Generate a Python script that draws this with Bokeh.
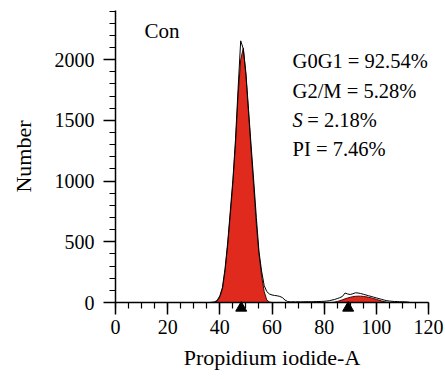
from bokeh.plotting import figure
from bokeh.models import Range1d, LinearAxis, SingleIntervalTicker, Label
from bokeh.embed import file_html
from bokeh.resources import INLINE

# ---- data ----
channels = list(range(36, 114))
fit_counts = [0, 0, 2, 12, 45, 110, 260, 470, 720, 980,          # 36-45
              1300, 1700, 2000, 2095, 1870, 1560, 1250, 950, 640, 400,  # 46-55
              220, 90, 20, 4, 0, 0, 0, 0, 0, 0,                    # 56-65
              0, 0, 0, 0, 0, 0, 0, 0, 0, 0,                        # 66-75
              0, 0, 0, 0, 0, 0, 0, 0, 3, 8,                        # 76-85
              15, 22, 30, 37, 43, 48, 51, 52, 52, 50,              # 86-95
              47, 43, 38, 32, 26, 19, 13, 7, 3, 0,                 # 96-105
              0, 0, 0, 0, 0, 0, 0, 0]                              # 106-113
raw_counts = [0, 2, 5, 18, 55, 125, 280, 490, 750, 1010,           # 36-45
              1340, 1760, 2155, 2090, 1890, 1590, 1290, 1000, 700, 420,  # 46-55
              260, 140, 90, 70, 62, 58, 55, 50, 40, 20,            # 56-65
              8, 5, 6, 5, 6, 5, 6, 6, 7, 6,                        # 66-75
              7, 8, 8, 9, 10, 12, 15, 20, 25, 32,                  # 76-85
              40, 50, 78, 70, 66, 72, 80, 78, 74, 68,              # 86-95
              62, 56, 50, 44, 38, 32, 26, 20, 15, 12,              # 96-105
              10, 8, 8, 6, 6, 5, 4, 0]                             # 106-113
peak_markers = [48.2, 89.2]
sample_name = "Con"
stat_names = ["G0G1", "G2/M", "S", "PI"]
stat_values = [92.54, 5.28, 2.18, 7.46]
x_label = "Propidium iodide-A"
y_label = "Number"

FONT = "Liberation Serif"
TICK_FS = "20px"
LABEL_FS = "22px"
STAT_FS = "20.5px"
NAME_FS = "21px"

p = figure(width=445, height=379, output_backend="svg", toolbar_location=None,
           x_range=Range1d(0, 120), y_range=Range1d(0, 2405),
           x_axis_type=None, y_axis_type=None,
           min_border_left=115, min_border_right=17,
           min_border_top=10, min_border_bottom=77)
p.outline_line_color = None
p.background_fill_color = "white"
p.border_fill_color = "white"

xaxis = LinearAxis(ticker=SingleIntervalTicker(interval=20, num_minor_ticks=4),
                   axis_label=x_label)
yaxis = LinearAxis(ticker=SingleIntervalTicker(interval=500, num_minor_ticks=5),
                   axis_label=y_label)
for ax in (xaxis, yaxis):
    ax.axis_line_width = 1.5
    ax.axis_line_color = "black"
    ax.major_tick_line_width = 1.5
    ax.minor_tick_line_width = 1.2
    ax.major_tick_line_color = "black"
    ax.minor_tick_line_color = "black"
    ax.major_tick_out = 12
    ax.major_tick_in = 0
    ax.minor_tick_out = 6
    ax.minor_tick_in = 0
    ax.major_label_text_font = FONT
    ax.major_label_text_font_size = TICK_FS
    ax.major_label_text_color = "black"
    ax.axis_label_text_font = FONT
    ax.axis_label_text_font_size = LABEL_FS
    ax.axis_label_text_font_style = "normal"
    ax.axis_label_text_color = "black"
xaxis.major_label_standoff = 5
xaxis.axis_label_standoff = 8
yaxis.major_label_standoff = 9
yaxis.axis_label_standoff = 16
p.add_layout(xaxis, "below")
p.add_layout(yaxis, "left")

# fitted model (red) and raw histogram (black outline)
p.varea(x=channels, y1=[0] * len(channels), y2=fit_counts,
        fill_color="#E02A1E", fill_alpha=1.0)
p.line(channels, fit_counts, line_color="#3a0c08", line_width=1.0)
p.line(channels, raw_counts, line_color="black", line_width=1.0)

# peak position markers (just below the axis line)
p.scatter(peak_markers, [-45] * len(peak_markers), marker="triangle",
          size=11, fill_color="black", line_color="black", level="overlay")

# texts
p.add_layout(Label(x=11.1, y=2240, text=sample_name, text_font=FONT,
                   text_font_size=NAME_FS, text_baseline="alphabetic",
                   text_color="black"))
y0 = 1985
dy = 240
for i, (n, v) in enumerate(zip(stat_names, stat_values)):
    yy = y0 - i * dy
    if n == "S":
        p.add_layout(Label(x=67.9, y=yy, text=n, text_font=FONT, text_font_size=STAT_FS,
                           text_font_style="italic", text_baseline="alphabetic",
                           text_color="black"))
        p.add_layout(Label(x=73.5, y=yy, text=f"= {v:.2f}%", text_font=FONT,
                           text_font_size=STAT_FS, text_baseline="alphabetic",
                           text_color="black"))
    else:
        p.add_layout(Label(x=67.9, y=yy, text=f"{n} = {v:.2f}%", text_font=FONT,
                           text_font_size=STAT_FS, text_baseline="alphabetic",
                           text_color="black"))

open("out.html", "w").write(file_html(p, INLINE))
